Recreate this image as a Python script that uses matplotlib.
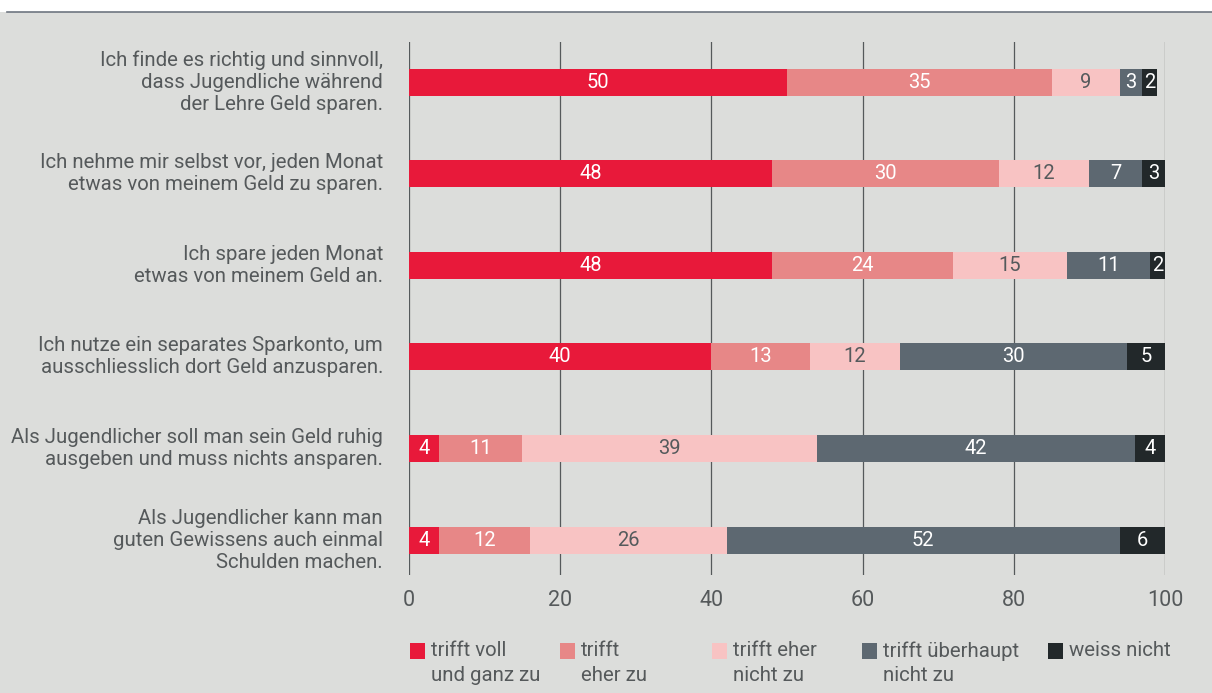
import matplotlib.pyplot as plt
from matplotlib.patches import Rectangle
from matplotlib.lines import Line2D

plt.rcParams["font.family"] = ["Roboto", "DejaVu Sans"]

statements = [
    "Ich finde es richtig und sinnvoll,\ndass Jugendliche während\nder Lehre Geld sparen.",
    "Ich nehme mir selbst vor, jeden Monat\netwas von meinem Geld zu sparen.",
    "Ich spare jeden Monat\netwas von meinem Geld an.",
    "Ich nutze ein separates Sparkonto, um\nausschliesslich dort Geld anzusparen.",
    "Als Jugendlicher soll man sein Geld ruhig\nausgeben und muss nichts ansparen.",
    "Als Jugendlicher kann man\nguten Gewissens auch einmal\nSchulden machen.",
]
answers = [
    "trifft voll\nund ganz zu",
    "trifft\neher zu",
    "trifft eher\nnicht zu",
    "trifft überhaupt\nnicht zu",
    "weiss nicht",
]
voll = [50, 48, 48, 40, 4, 4]
eher = [35, 30, 24, 13, 11, 12]
eher_nicht = [9, 12, 15, 12, 39, 26]
ueberhaupt_nicht = [3, 7, 11, 30, 42, 52]
weiss_nicht = [2, 3, 2, 5, 4, 6]
ticks = [0, 20, 40, 60, 80, 100]

series = [voll, eher, eher_nicht, ueberhaupt_nicht, weiss_nicht]
colors = ["#e8193a", "#e78787", "#f8c3c3", "#5d6871", "#22282a"]
text_colors = ["white", "white", "#555a5c", "white", "white"]
bg = "#dcdddb"
ink = "#55595b"

fig = plt.figure(figsize=(12.12, 6.93), dpi=100, facecolor=bg)
# white strip and rule along the top edge
fig.patches.append(Rectangle((0, 1 - 12 / 693), 1, 12 / 693, transform=fig.transFigure,
                             facecolor="white", edgecolor="none", zorder=0))
fig.add_artist(Line2D([0.006, 1], [1 - 12 / 693] * 2, transform=fig.transFigure,
                      color="#6e7580", lw=1.2))

ax = fig.add_axes([409 / 1212, 1 - 575 / 693, 756 / 1212, 533 / 693])
ax.set_facecolor(bg)

rows = range(len(statements))
left = [0] * len(statements)
for vals, col, tcol in zip(series, colors, text_colors):
    ax.barh(rows, vals, left=left, height=0.295, color=col, edgecolor="none", zorder=3)
    for r, (l, v) in enumerate(zip(left, vals)):
        ax.text(l + v / 2, r, str(v), ha="center", va="center", color=tcol,
                fontsize=14.5, zorder=4)
    left = [l + v for l, v in zip(left, vals)]

ax.set_xlim(0, 100)
ax.set_ylim(5.38, -0.437)
ax.set_xticks(ticks)
ax.set_xticklabels([str(t) for t in ticks])
ax.set_yticks([])
for t in ticks:
    ax.axvline(t, color="#55595b", lw=0.9, zorder=1)
for s in ax.spines.values():
    s.set_visible(False)
ax.tick_params(axis="x", length=0, pad=11, labelsize=15.5, labelcolor=ink)

for r, label in enumerate(statements):
    ax.text(-26 / 7.56, r, label, ha="right", va="center", fontsize=14.7,
            color=ink, linespacing=1.2)

# legend
legend_x = [410, 560, 712, 862, 1048]
for x, col, label in zip(legend_x, colors, answers):
    fig.patches.append(Rectangle((x / 1212, 1 - 659 / 693), 15 / 1212, 16 / 693,
                                 transform=fig.transFigure, facecolor=col,
                                 edgecolor="none"))
    fig.text((x + 21) / 1212, 1 - 641 / 693, label, ha="left", va="top",
             fontsize=14.7, color=ink, linespacing=1.38)

fig.savefig("out.png", dpi=100, facecolor=bg)
